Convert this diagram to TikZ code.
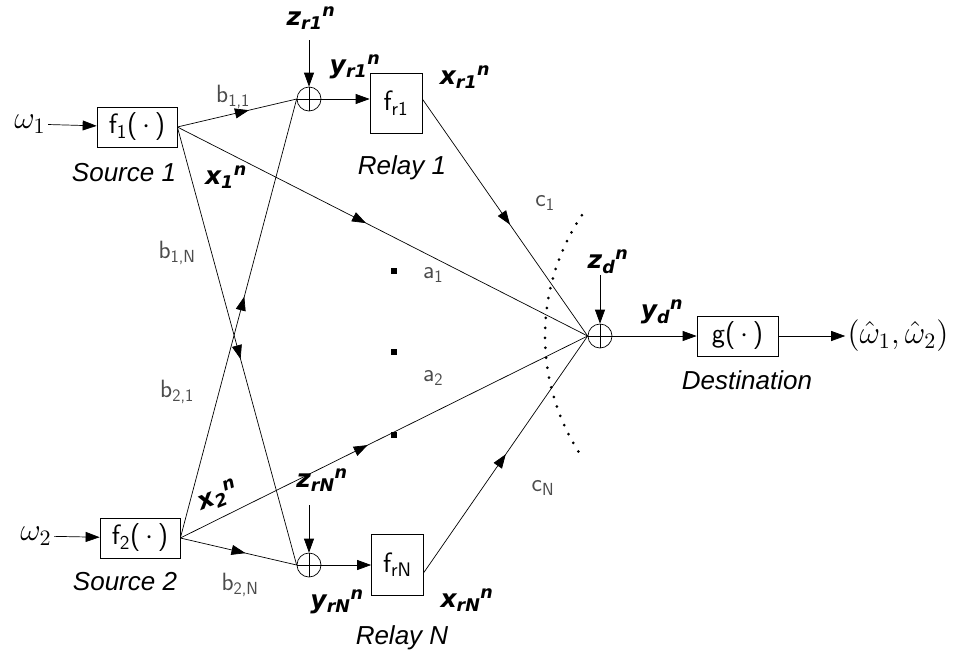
\documentclass[tikz,border=0pt]{standalone}
\usepackage{graphicx}
\usepackage{fontspec}
\setmainfont{Liberation Sans}
\newfontfamily\lblfont{DejaVu Sans}
\usetikzlibrary{arrows.meta,decorations.markings}
\newcommand\bl[3]{{\lblfont\bfseries\itshape\fontsize{25}{27}\selectfont #1\textsubscript{#2}\textsuperscript{#3}}}
\newcommand\largemath[1]{\scalebox{2.2}{$#1$}}
\newcommand\boxtxt[1]{\scalebox{1.4}{#1}}
\begin{document}
\begin{tikzpicture}[x=1pt,y=-1pt,
  line width=0.7pt,
  >={Triangle[length=14pt,width=10pt]},
  midarr/.style={postaction={decorate},decoration={markings,mark=at position #1 with {\arrow{Triangle[length=14pt,width=10pt]}}}},
  blk/.style={draw,fill=white,minimum width=80pt,minimum height=40pt,inner sep=0pt,font=\sffamily\fontsize{20}{22}\selectfont},
  rbox/.style={draw,fill=white,minimum width=52pt,minimum height=60pt,inner sep=0pt,font=\sffamily\fontsize{20}{22}\selectfont},
  sumn/.style={circle,draw,minimum size=24pt,inner sep=0pt,path picture={\draw (path picture bounding box.north) -- (path picture bounding box.south) (path picture bounding box.west) -- (path picture bounding box.east);}},
  captxt/.style={font=\fontsize{26}{28}\selectfont\itshape},
  hand/.style={text=black!70,font=\sffamily\fontsize{25}{27}\selectfont},
  mth/.style={font=\fontsize{14}{16}\selectfont,inner sep=2pt},
  bd/.style={inner sep=1pt},
  sq/.style={fill=black,minimum size=6pt,inner sep=0pt}
]
\useasboundingbox (0,0) rectangle (968,662);

% Source 1 side
\node[mth] (w1) at (30,124) {\largemath{\omega_1}};
\node[blk] (s1) at (137,127) {\boxtxt{f\textsubscript{1}(\,$\cdot$\,)}};
\node[captxt] (s1l) at (124,173) {Source 1};
\node[bd] (x1) at (226,177) {\bl{x}{1}{n}};
\node[sumn] (m1) at (309,99) {};
\node[rbox] (r1) at (396,103) {\boxtxt{f\textsubscript{r1}}};
\node[captxt] (r1l) at (402,168) {Relay 1};
\node[bd] (z1) at (311,18) {\bl{z}{r1}{n}};
\node[bd] (y1) at (355,67) {\bl{y}{r1}{n}};
\node[bd] (x1r) at (465,77) {\bl{x}{r1}{n}};
\coordinate (z1e) at (309,40);

% Source 2 side
\node[mth] (w2) at (36,536) {\largemath{\omega_2}};
\node[blk] (s2) at (140,538) {\boxtxt{f\textsubscript{2}(\,$\cdot$\,)}};
\node[captxt] (s2l) at (125,582) {Source 2};
\node[bd,rotate=22] (x2) at (218,496) {\bl{x}{2}{n}};
\node[sumn] (mN) at (309,565) {};
\node[rbox,minimum height=61pt] (rN) at (397.5,564.5) {\boxtxt{f\textsubscript{rN}}};
\node[captxt] (rNl) at (402,638) {Relay N};
\node[bd] (zN) at (322,480) {\bl{z}{rN}{n}};
\node[bd] (yN) at (337,602) {\bl{y}{rN}{n}};
\node[bd] (xNr) at (467,600) {\bl{x}{rN}{n}};
\coordinate (zNe) at (309,505);

% Destination
\node[sumn] (md) at (600,336) {};
\node[blk,minimum width=81pt] (g) at (737.5,336) {\boxtxt{g(\,$\cdot$\,)}};
\node[captxt] (dl) at (747,380) {Destination};
\node[bd] (zd) at (608,262) {\bl{z}{d}{n}};
\node[bd] (yd) at (662,312) {\bl{y}{d}{n}};
\node[mth] (out) at (898,336) {\largemath{(\hat\omega_1,\hat\omega_2)}};
\coordinate (zde) at (600,275);

% hand labels
\node[hand] (b11) at (233,97) {b\textsubscript{1,1}};
\node[hand] (b1N) at (177,253) {b\textsubscript{1,N}};
\node[hand] (b21) at (177,392) {b\textsubscript{2,1}};
\node[hand] (b2N) at (240,585) {b\textsubscript{2,N}};
\node[hand] (a1) at (433,275) {a\textsubscript{1}};
\node[hand] (a2) at (433,378) {a\textsubscript{2}};
\node[hand] (c1) at (545,203) {c\textsubscript{1}};
\node[hand] (cN) at (543,488) {c\textsubscript{N}};

% vertical dots
\node[sq] (d1) at (394,271) {};
\node[sq] (d2) at (394,352) {};
\node[sq] (d3) at (394,435) {};

% dotted arc
\coordinate (arcc) at (761,336);
\draw[line width=3pt,line cap=round,dash pattern=on 0pt off 10pt] (arcc) ++(214:216) arc[start angle=214,end angle=146,radius=216];

% connectors
\draw[->] (w1) -- (s1);
\draw[->] (w2) -- (s2);
\draw[midarr=0.6] (s1.east) -- (m1.west);
\draw[midarr=0.46] (s1.east) -- (md.west);
\draw[midarr=0.53] (s1.east) -- (mN.west);
\draw[midarr=0.55] (s2.east) -- (m1.west);
\draw[midarr=0.46] (s2.east) -- (md.west);
\draw[midarr=0.56] (s2.east) -- (mN.west);
\draw[->] (m1) -- (r1.west |- m1);
\draw[->] (mN) -- (rN.west |- mN);
\draw[midarr=0.53] (r1.east |- m1) -- (md.west);
\draw[midarr=0.5] ([yshift=-8pt]rN.east) -- (md.west);
\draw[->] (z1e) -- (m1);
\draw[->] (zNe) -- (mN);
\draw[->] (zde) -- (md);
\draw[->] (md) -- (g);
\draw[->] (g) -- (out);
\end{tikzpicture}
\end{document}
